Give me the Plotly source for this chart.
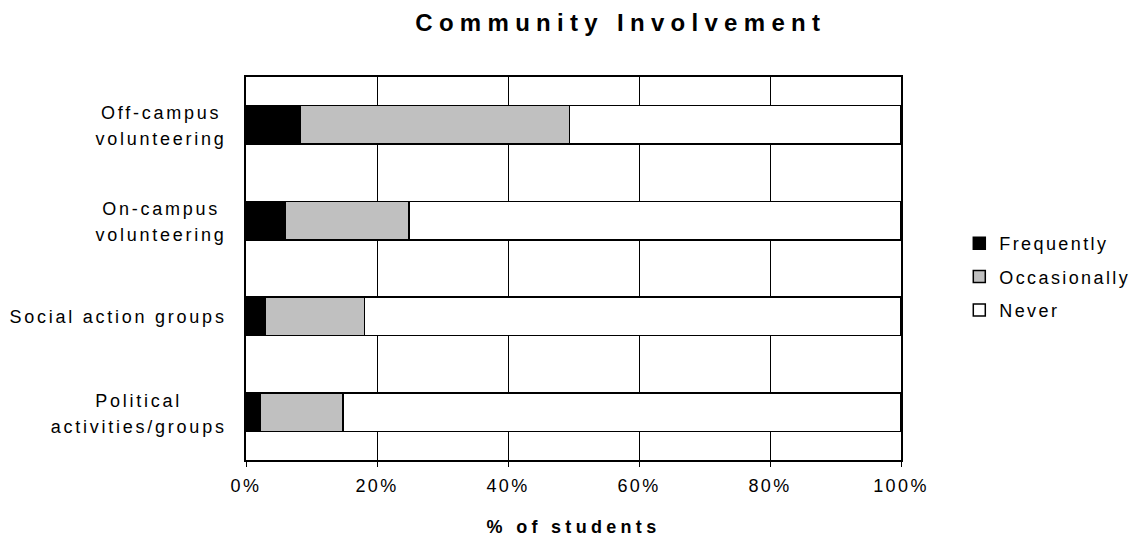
import plotly.graph_objects as go

# Survey results: share of students by frequency of participation
categories = [
    "Off-campus<br>volunteering",
    "On-campus<br>volunteering",
    "Social action groups",
    "Political<br>activities/groups",
]
frequently = [8.3, 6.0, 2.9, 2.2]
occasionally = [41.1, 18.9, 15.2, 12.6]
never = [50.6, 75.1, 81.9, 85.2]

series_names = ["Frequently", "Occasionally", "Never"]
series_colors = ["#000000", "#C0C0C0", "#FFFFFF"]

x_ticks = [0, 20, 40, 60, 80, 100]
x_tick_labels = ["0%", "20%", "40%", "60%", "80%", "100%"]

FONT = "Liberation Sans, Arial, sans-serif"

fig = go.Figure()
for name, vals, color in zip(series_names, [frequently, occasionally, never], series_colors):
    fig.add_trace(go.Bar(
        name=name,
        legendgroup=name,
        y=categories,
        x=vals,
        orientation="h",
        marker=dict(color=color, line=dict(color="#000000", width=1.5)),
        hoverinfo="skip",
    ))

fig.update_layout(
    barmode="stack",
    bargap=0.6,
    width=1137,
    height=537,
    margin=dict(l=246, r=236, t=77, b=77, autoexpand=False),
    paper_bgcolor="white",
    plot_bgcolor="white",
    font=dict(family=FONT, size=18, color="#000000"),
    title=dict(
        text="<b>Community Involvement</b>",
        x=0.546, xref="container", xanchor="center",
        y=0.958, yref="container", yanchor="middle",
        font=dict(family=FONT, size=24, color="#000000"),
    ),
    legend=dict(
        x=1.089, xanchor="left",
        y=0.478, yanchor="middle",
        traceorder="grouped",
        font=dict(family=FONT, size=18, color="#000000"),
        itemclick=False, itemdoubleclick=False,
        tracegroupgap=7,
        bgcolor="rgba(0,0,0,0)",
    ),
    showlegend=True,
)

fig.update_xaxes(
    range=[0, 100],
    tickvals=x_ticks,
    ticktext=x_tick_labels,
    showgrid=True,
    gridcolor="#000000",
    gridwidth=1,
    showline=True,
    linecolor="#000000",
    linewidth=1.5,
    mirror=True,
    ticks="outside",
    ticklen=5,
    tickcolor="#000000",
    ticklabelstandoff=4,
    tickfont=dict(family=FONT, size=18),
    zeroline=False,
    title=dict(text="<b>% of students</b>", font=dict(family=FONT, size=18), standoff=27),
    fixedrange=True,
)
fig.update_yaxes(
    categoryorder="array",
    categoryarray=categories,
    autorange="reversed",
    showline=True,
    linecolor="#000000",
    linewidth=1.5,
    mirror=True,
    ticks="",
    ticklabelstandoff=14,
    tickfont=dict(family=FONT, size=18),
    showgrid=False,
    fixedrange=True,
)

# Widen the character tracking, centre the lines of two-line category labels
# and let the legend text run past its box
post = """
var rules = [['.gtitle', '6.3px'], ['.xtitle', '4.3px'], ['.xtick text', '2.4px'],
             ['.ytick text', '2.75px'], ['.legendtext', '2.4px']];
rules.forEach(function(r){
  document.querySelectorAll(r[0]).forEach(function(t){ t.style.letterSpacing = r[1]; });
});
document.querySelectorAll('.ytick text').forEach(function(t){
  var lines = t.querySelectorAll('tspan.line');
  if (lines.length < 2) { return; }
  var right = parseFloat(t.getAttribute('x'));
  var w = 0;
  lines.forEach(function(l){ w = Math.max(w, l.getComputedTextLength()); });
  var cx = right - w / 2;
  t.setAttribute('text-anchor', 'middle');
  t.setAttribute('x', cx);
  lines.forEach(function(l, i){
    l.setAttribute('x', cx);
    if (i > 0) { l.setAttribute('dy', '26px'); }
  });
  var y = parseFloat(t.getAttribute('y'));
  t.setAttribute('y', y - 1.5);
});
document.querySelectorAll('.legend, .legend *').forEach(function(e){
  e.removeAttribute('clip-path');
});
"""

fig.write_html("out.html", config={"displayModeBar": False}, post_script=post)
